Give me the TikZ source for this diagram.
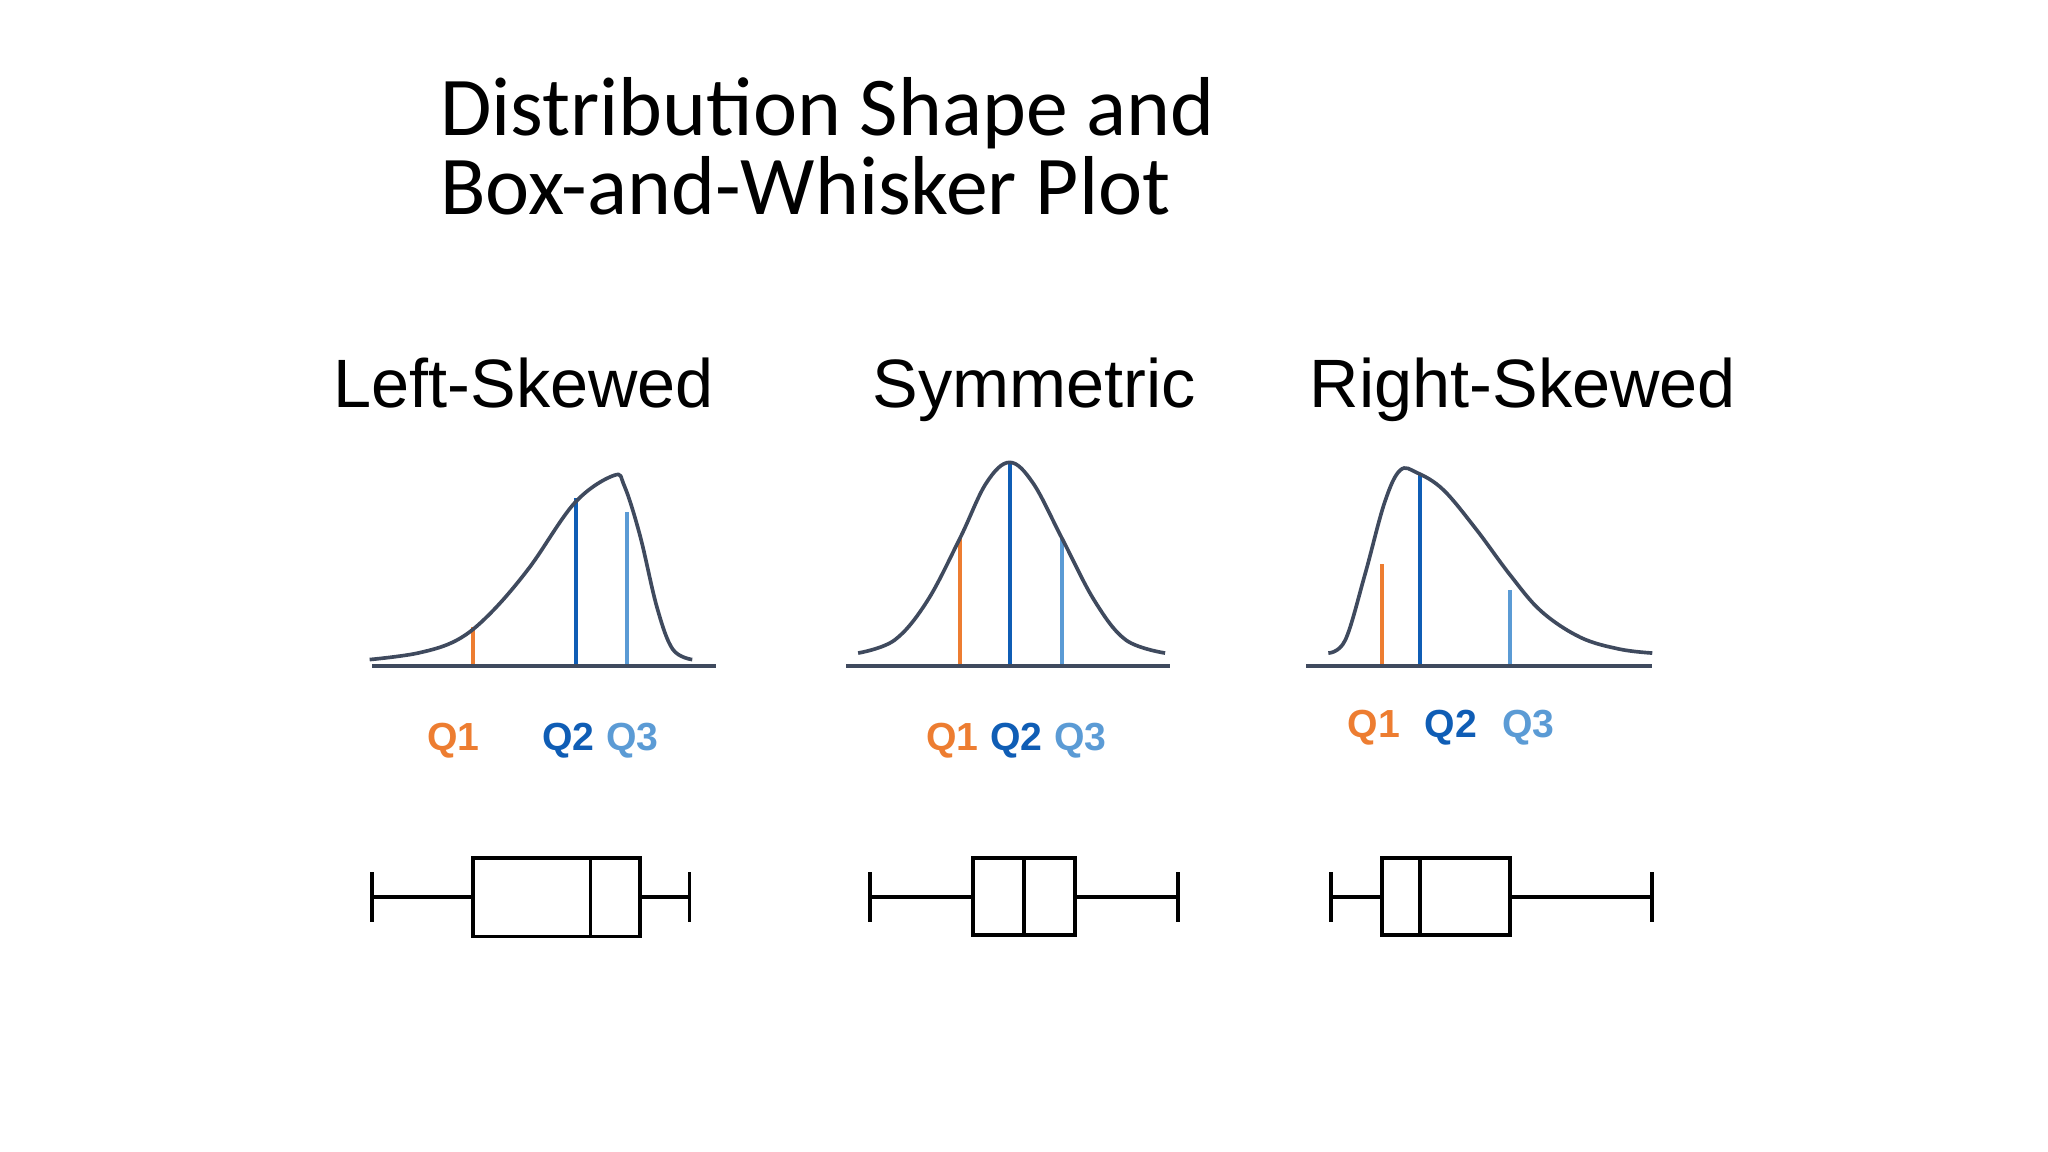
\documentclass[tikz,border=0pt]{standalone}
\usepackage{fontspec}
\setmainfont{Liberation Sans}
\newfontfamily\titlefont{Carlito}
\definecolor{qone}{HTML}{ED7D31}
\definecolor{qtwo}{HTML}{0F5DB5}
\definecolor{qthree}{HTML}{5B9BD5}
\definecolor{curvec}{HTML}{3F4A5E}
\begin{document}
\begin{tikzpicture}[x=0.5pt,y=-0.5pt,
  curve/.style={draw=curvec,line width=1.4pt},
  axisline/.style={draw=curvec,line width=1.6pt},
  qline/.style={line width=1.5pt},
  qlab/.style={font=\fontsize{15}{15}\selectfont\bfseries},
  head/.style={font=\fontsize{26.2}{26}\selectfont,anchor=base},
  bw/.style={draw=black,line width=1.4pt}]
\useasboundingbox (0,0) rectangle (1568,882);
\node[anchor=west,font=\titlefont\fontsize{32}{30.5}\selectfont,align=left] (title) at (330,112) {Distribution Shape and\\Box-and-Whisker Plot};
\node[head] (h1) at (401,312) {Left-Skewed};
\node[head] (h2) at (792,312) {Symmetric};
\node[head] (h3) at (1166,312) {Right-Skewed};
% left skewed
\draw[qone,qline] (362,510) -- (362,480);
\draw[qtwo,qline] (441,510) -- (441,381);
\draw[qthree,qline] (480,510) -- (480,392);
\draw[curve] plot[smooth,tension=0.6] coordinates {(283,505) (320,500) (350,490) (375,470) (405,435) (440,385) (470,364) (478,372) (490,410) (503,465) (515,497) (530,505)};
\draw[axisline] (285,510) -- (548,510);
% symmetric
\draw[qone,qline] (735,510) -- (735,412);
\draw[qtwo,qline] (773,510) -- (773,355);
\draw[qthree,qline] (813,510) -- (813,412);
\draw[curve] plot[smooth,tension=0.6] coordinates {(657,500) (685,490) (710,460) (735,412) (755,370) (773,354) (791,370) (813,412) (838,460) (862,490) (892,500)};
\draw[axisline] (648,510) -- (896,510);
% right skewed
\draw[qone,qline] (1058,510) -- (1058,432);
\draw[qtwo,qline] (1087,510) -- (1087,364);
\draw[qthree,qline] (1156,510) -- (1156,452);
\draw[curve] plot[smooth,tension=0.6] coordinates {(1017,500) (1030,490) (1045,440) (1060,385) (1072,360) (1085,362) (1105,375) (1130,405) (1156,440) (1180,468) (1210,488) (1240,497) (1265,500)};
\draw[axisline] (1000,510) -- (1265,510);
% labels
\node[qlab,qone] (l1) at (347,567) {Q1};
\node[qlab,qtwo] (l2) at (435,567) {Q2};
\node[qlab,qthree] (l3) at (484,567) {Q3};
\node[qlab,qone] (s1) at (729,567) {Q1};
\node[qlab,qtwo] (s2) at (778,567) {Q2};
\node[qlab,qthree] (s3) at (827,567) {Q3};
\node[qlab,qone] (r1) at (1052,557) {Q1};
\node[qlab,qtwo] (r2) at (1111,557) {Q2};
\node[qlab,qthree] (r3) at (1170,557) {Q3};
% box plots
\draw[bw] (285,668) -- (285,706) (285,687) -- (362,687) (362,657) rectangle (490,717) (452,657) -- (452,717) (490,687) -- (528,687) (528,668) -- (528,706);
\draw[bw] (666,668) -- (666,706) (666,687) -- (745,687) (745,657) rectangle (823,716) (784,657) -- (784,716) (823,687) -- (902,687) (902,668) -- (902,706);
\draw[bw] (1019,668) -- (1019,706) (1019,687) -- (1058,687) (1058,657) rectangle (1156,716) (1087,657) -- (1087,716) (1156,687) -- (1265,687) (1265,668) -- (1265,706);
\end{tikzpicture}
\end{document}
